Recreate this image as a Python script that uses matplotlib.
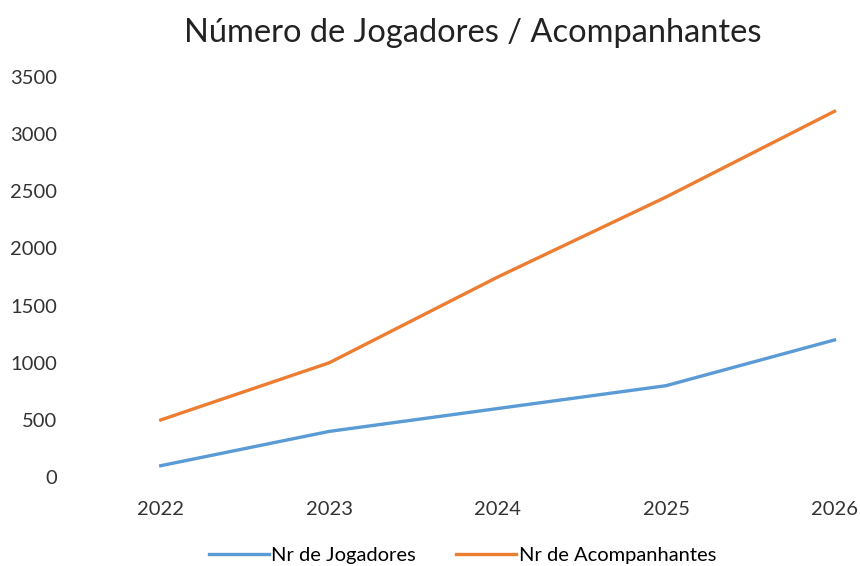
import matplotlib.pyplot as plt

anos = [2022, 2023, 2024, 2025, 2026]
jogadores = [100, 400, 600, 800, 1200]
acompanhantes = [500, 1000, 1750, 2450, 3200]

plt.rcParams['font.family'] = ['Lato', 'DejaVu Sans']

fig = plt.figure(figsize=(8.6, 5.66), dpi=100)
ax = fig.add_axes([0.087, 0.157, 0.901, 0.707])

ax.plot(anos, jogadores, color="#5B9BD5", linewidth=2.4, label="Nr de Jogadores")
ax.plot(anos, acompanhantes, color="#ED7D31", linewidth=2.4, label="Nr de Acompanhantes")

ax.set_xlim(2021.49, 2026.09)
ax.set_ylim(0, 3500)
ax.set_xticks(anos)
ax.set_yticks(range(0, 3501, 500))
ax.tick_params(axis="both", length=0, labelsize=14.5, colors="#333333")
ax.tick_params(axis="x", pad=17)
ax.tick_params(axis="y", pad=13)
for s in ax.spines.values():
    s.set_visible(False)

fig.text(0.55, 0.942, "Número de Jogadores / Acompanhantes", ha="center", va="center",
         fontsize=23.5, color="#222222")

ax.legend(loc="center", bbox_to_anchor=(0.5, -0.195), ncol=2, frameon=False,
          fontsize=14.5, handlelength=3.0, handletextpad=0.1, columnspacing=2.0)

fig.savefig("out.png", dpi=100)
